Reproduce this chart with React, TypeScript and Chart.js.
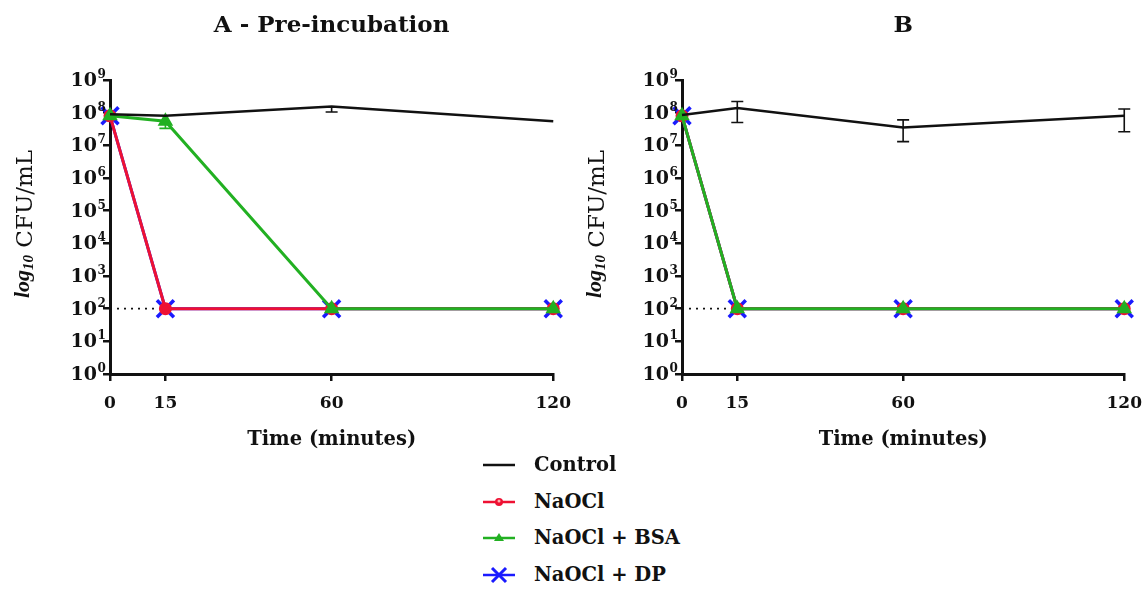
import React, { useEffect, useRef } from 'react';
import { Chart, registerables } from 'chart.js';
Chart.register(...registerables);

// ---------- data ----------
const timePoints = [0, 15, 60, 120];
const xTickValues = [0, 15, 60, 120];
const yTickExponents = [0, 1, 2, 3, 4, 5, 6, 7, 8, 9];
const detectionLimit = 100;
const limitTimes = [0, 15];

const panelTitleA = 'A - Pre-incubation';
const panelTitleB = 'B';
const xTitle = 'Time (minutes)';

const controlA = [9e7, 8e7, 1.55e8, 5.5e7];
const controlErrLowA = [null, null, 1.05e8, null];
const controlErrHighA = [null, null, 1.55e8, null];
const naoclA = [8e7, 100, 100, 100];
const bsaA = [8e7, 5.5e7, 100, 100];
const bsaErrLowA = [null, 3.3e7, null, null];
const bsaErrHighA = [null, 5.5e7, null, null];
const dpA = [8e7, 100, 100, 100];

const controlB = [8.5e7, 1.4e8, 3.5e7, 8e7];
const controlErrLowB = [null, 5e7, 1.3e7, 2.6e7];
const controlErrHighB = [null, 2.2e8, 6e7, 1.3e8];
const naoclB = [8e7, 100, 100, 100];
const bsaB = [8e7, 100, 100, 100];
const dpB = [8e7, 100, 100, 100];

const legendLabels = ['Control', 'NaOCl', 'NaOCl + BSA', 'NaOCl + DP'];

const BLACK = '#111111';
const RED = '#ee1133';
const GREEN = '#22b022';
const BLUE = '#1a1aff';

const SERIF = '"DejaVu Serif", serif';

const xy = (vals: (number | null)[]) => vals.map((v, i) => ({ x: timePoints[i], y: v }));

// ---------- plugins ----------
const errorBarPlugin = {
  id: 'errorBars',
  afterDatasetsDraw(chart: any, _args: any, opts: any) {
    const sets = (opts && opts.sets) || [];
    const { ctx } = chart;
    const xs = chart.scales.x;
    const ys = chart.scales.y;
    ctx.save();
    for (const s of sets) {
      ctx.strokeStyle = s.color;
      ctx.lineWidth = 1.6;
      s.low.forEach((lo: number | null, i: number) => {
        const hi = s.high[i];
        if (lo == null || hi == null) return;
        const px = xs.getPixelForValue(timePoints[i]);
        const p1 = ys.getPixelForValue(lo);
        const p2 = ys.getPixelForValue(hi);
        ctx.beginPath();
        ctx.moveTo(px, p1);
        ctx.lineTo(px, p2);
        ctx.moveTo(px - 6, p1);
        ctx.lineTo(px + 6, p1);
        if (Math.abs(p2 - ys.getPixelForValue(s.values[i])) > 1) {
          ctx.moveTo(px - 6, p2);
          ctx.lineTo(px + 6, p2);
        }
        ctx.stroke();
      });
    }
    ctx.restore();
  },
};

const decorPlugin = {
  id: 'decor',
  afterDraw(chart: any, _args: any, opts: any) {
    const { ctx, chartArea } = chart;
    const ys = chart.scales.y;
    ctx.save();
    ctx.fillStyle = BLACK;
    // panel title
    ctx.font = `bold 23px ${SERIF}`;
    ctx.textAlign = 'center';
    ctx.textBaseline = 'alphabetic';
    ctx.fillText(opts.title, (chartArea.left + chartArea.right) / 2, 32);
    // y tick labels with superscripts
    const rx = chartArea.left - 13;
    for (const e of yTickExponents) {
      const py = ys.getPixelForValue(Math.pow(10, e));
      ctx.font = `bold 19px ${SERIF}`;
      ctx.textAlign = 'right';
      ctx.textBaseline = 'middle';
      ctx.fillText('10', rx, py + 1);
      ctx.font = `bold 12px ${SERIF}`;
      ctx.textAlign = 'left';
      ctx.textBaseline = 'alphabetic';
      ctx.fillText(String(e), rx + 0.5, py - 2);
    }
    // y axis title
    const f1 = `italic bold 22px "Liberation Serif", serif`;
    const f2 = `italic bold 15px "Liberation Serif", serif`;
    const f3 = `23px ${SERIF}`;
    ctx.font = f1;
    const w1 = ctx.measureText('log').width;
    ctx.font = f2;
    const w2 = ctx.measureText('10').width;
    ctx.font = f3;
    const w3 = ctx.measureText(' CFU/mL').width;
    const total = w1 + w2 + w3;
    const cy = (chartArea.top + chartArea.bottom) / 2 - 3;
    const baseX = chartArea.left - 78;
    ctx.translate(baseX, cy + total / 2);
    ctx.rotate(-Math.PI / 2);
    ctx.textAlign = 'left';
    ctx.textBaseline = 'alphabetic';
    ctx.font = f1;
    ctx.fillText('log', 0, -3);
    ctx.font = f2;
    ctx.fillText('10', w1, 1);
    ctx.font = f3;
    ctx.fillText(' CFU/mL', w1 + w2, 0);
    ctx.restore();
  },
};

function makeConfig(
  title: string,
  control: number[],
  naocl: number[],
  bsa: number[],
  dp: number[],
  errSets: any[]
): any {
  return {
    type: 'line',
    data: {
      datasets: [
        {
          label: legendLabels[0],
          data: xy(control),
          borderColor: BLACK,
          borderWidth: 2.5,
          pointRadius: 0,
          order: 1,
        },
        {
          label: legendLabels[2],
          data: xy(bsa),
          borderColor: GREEN,
          backgroundColor: GREEN,
          borderWidth: 3,
          pointStyle: 'triangle',
          pointRadius: 6,
          pointBackgroundColor: GREEN,
          pointBorderColor: GREEN,
          order: 2,
        },
        {
          label: legendLabels[1],
          data: xy(naocl),
          borderColor: RED,
          backgroundColor: RED,
          borderWidth: 3,
          pointStyle: 'circle',
          pointRadius: 5,
          pointBackgroundColor: RED,
          pointBorderColor: RED,
          order: 3,
        },
        {
          label: legendLabels[3],
          data: xy(dp),
          borderColor: BLUE,
          borderWidth: 3,
          pointStyle: 'crossRot',
          pointRadius: 12,
          pointBorderWidth: 3.5,
          pointBorderColor: BLUE,
          order: 4,
        },
        {
          label: 'limit',
          data: limitTimes.map((t) => ({ x: t, y: detectionLimit })),
          borderColor: BLACK,
          borderWidth: 1.8,
          borderDash: [2, 5],
          pointRadius: 0,
          order: 5,
        },
      ],
    },
    options: {
      animation: false,
      responsive: false,
      clip: false,
      layout: { padding: { top: 80, left: 0, right: 0, bottom: 18 } },
      plugins: {
        legend: { display: false },
        tooltip: { enabled: false },
        title: { display: false },
        decor: { title },
        errorBars: { sets: errSets },
      },
      scales: {
        x: {
          type: 'linear',
          min: 0,
          max: 120,
          afterBuildTicks: (s: any) => {
            s.ticks = xTickValues.map((v) => ({ value: v }));
          },
          afterFit: (s: any) => {
            s.height = 78;
          },
          ticks: {
            color: BLACK,
            padding: 12,
            font: { family: SERIF, size: 17, weight: 'bold' },
            callback: (v: any) => String(v),
          },
          grid: {
            display: true,
            drawOnChartArea: false,
            drawTicks: true,
            tickLength: 7,
            color: BLACK,
            lineWidth: 2.5,
          },
          border: { display: true, color: BLACK, width: 3 },
          title: {
            display: true,
            text: xTitle,
            color: BLACK,
            padding: 0,
            font: { family: SERIF, size: 19.5, weight: 'bold' },
          },
        },
        y: {
          type: 'logarithmic',
          min: 1,
          max: 1e9,
          afterBuildTicks: (s: any) => {
            s.ticks = yTickExponents.map((e) => ({ value: Math.pow(10, e) }));
          },
          afterFit: (s: any) => {
            s.width = 110;
          },
          ticks: { display: false },
          grid: {
            display: true,
            drawOnChartArea: false,
            drawTicks: true,
            tickLength: 7,
            color: BLACK,
            lineWidth: 2.5,
          },
          border: { display: true, color: BLACK, width: 3 },
        },
      },
    },
    plugins: [errorBarPlugin, decorPlugin],
  };
}

function Panel(props: { config: any; left: number; width: number; height: number }) {
  const ref = useRef<HTMLCanvasElement | null>(null);
  useEffect(() => {
    if (!ref.current) return;
    const chart = new Chart(ref.current, props.config);
    return () => chart.destroy();
  }, []);
  return (
    <canvas
      ref={ref}
      width={props.width}
      height={props.height}
      style={{ position: 'absolute', left: props.left, top: 0, width: props.width, height: props.height, display: 'block' }}
    />
  );
}

function LegendMarker({ idx }: { idx: number }) {
  const color = [BLACK, RED, GREEN, BLUE][idx];
  return (
    <svg width={40} height={20} style={{ position: 'absolute', left: 480, top: 0 }}>
      <line x1={3} y1={10} x2={35} y2={10} stroke={color} strokeWidth={2.5} />
      {idx === 1 && <circle cx={19} cy={10} r={4} fill={RED} />}
      {idx === 1 && <circle cx={19} cy={9} r={1.5} fill="#ffb0b0" />}
      {idx === 2 && <polygon points="19,5 24,13 14,13" fill={GREEN} />}
      {idx === 3 && (
        <g stroke={BLUE} strokeWidth={3}>
          <line x1={12} y1={3} x2={26} y2={17} />
          <line x1={12} y1={17} x2={26} y2={3} />
        </g>
      )}
    </svg>
  );
}

export default function App() {
  const cfgA = makeConfig(panelTitleA, controlA, naoclA, bsaA, dpA, [
    { color: BLACK, low: controlErrLowA, high: controlErrHighA, values: controlA },
    { color: GREEN, low: bsaErrLowA, high: bsaErrHighA, values: bsaA },
  ]);
  const cfgB = makeConfig(panelTitleB, controlB, naoclB, bsaB, dpB, [
    { color: BLACK, low: controlErrLowB, high: controlErrHighB, values: controlB },
  ]);
  const rowsY = [465, 502, 538, 575];
  return (
    <div style={{ position: 'absolute', left: 0, top: 0, width: 1145, height: 590, background: '#fff', overflow: 'hidden' }}>
      <Panel config={cfgA} left={0} width={583} height={470} />
      <Panel config={cfgB} left={572} width={582} height={470} />
      {legendLabels.map((lab, i) => (
        <div key={lab} style={{ position: 'absolute', left: 0, top: rowsY[i] - 10, height: 20, width: 1145 }}>
          <LegendMarker idx={i} />
          <span
            style={{
              position: 'absolute',
              left: 534,
              top: -4,
              lineHeight: '28px',
              fontFamily: SERIF,
              fontWeight: 'bold',
              fontSize: 19.5,
              color: BLACK,
              whiteSpace: 'nowrap',
            }}
          >
            {lab}
          </span>
        </div>
      ))}
    </div>
  );
}
